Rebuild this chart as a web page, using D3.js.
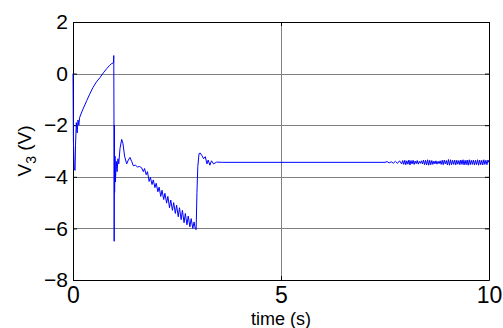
<!DOCTYPE html>
<html>
<head>
<meta charset="utf-8">
<script src="https://cdn.jsdelivr.net/npm/d3@7"></script>
<style>
  body { margin: 0; background: #fff; }
  svg { display: block; font-family: "Liberation Sans", Arial, sans-serif; }
</style>
</head>
<body>
<svg id="chart" width="503" height="328"></svg>
<script>
// time (s) and V3 (V)
const time = [
  0, 0.01, 0.03, 0.05, 0.06, 0.08, 0.10, 0.12, 0.14, 0.16,
  0.22, 0.33, 0.40, 0.48, 0.56, 0.65, 0.73, 0.81, 0.88, 0.93, 0.975,
  0.98, 0.985, 0.99, 0.995, 1.0, 1.01, 1.02, 1.04, 1.06, 1.08, 1.10, 1.13, 1.17, 1.20, 1.24, 1.29,
  1.33, 1.37, 1.41, 1.45, 1.50, 1.55, 1.60, 1.65,
  1.69, 1.72, 1.76, 1.79, 1.83, 1.86, 1.90, 1.93, 1.97, 2.00, 2.04, 2.07, 2.11, 2.14, 2.18, 2.21,
  2.25, 2.28, 2.32, 2.35, 2.39, 2.42, 2.46, 2.49, 2.53, 2.56, 2.60, 2.63, 2.67, 2.70, 2.74, 2.77,
  2.81, 2.84, 2.88, 2.91, 2.94, 2.96,
  2.98, 3.00, 3.03, 3.06, 3.10, 3.14, 3.18, 3.22, 3.25, 3.29, 3.33, 3.38, 3.45, 3.6, 5, 7.5,
  7.55, 7.6, 7.65, 7.7, 7.75, 7.8, 7.85, 7.9,
  7.925, 7.95, 7.975, 8.0, 8.025, 8.05, 8.075, 8.1, 8.125, 8.15,
  8.175, 8.2, 8.225, 8.25, 8.275, 8.3, 8.325, 8.35, 8.375, 8.4,
  8.425, 8.45, 8.475, 8.5, 8.525, 8.55, 8.575, 8.6, 8.625, 8.65,
  8.675, 8.7, 8.725, 8.75, 8.775, 8.8, 8.825, 8.85, 8.875, 8.9,
  8.925, 8.95, 8.975, 9.0, 9.025, 9.05, 9.075, 9.1, 9.125, 9.15,
  9.175, 9.2, 9.225, 9.25, 9.275, 9.3, 9.325, 9.35, 9.375, 9.4,
  9.425, 9.45, 9.475, 9.5, 9.525, 9.55, 9.575, 9.6, 9.625, 9.65,
  9.675, 9.7, 9.725, 9.75, 9.775, 9.8, 9.825, 9.85, 9.875, 9.9,
  9.925, 9.95, 9.975, 10
];
const v3 = [
  0, -2.6, -3.7, -3.75, -2.8, -1.9, -2.3, -1.8, -2.0, -1.7,
  -1.45, -1.05, -0.8, -0.54, -0.33, -0.15, 0.03, 0.19, 0.32, 0.39, 0.42,
  0.7, -1.8, -6.5, -2.0, -4.6, -3.2, -4.2, -3.4, -3.8, -3.3, -3.5, -2.9, -2.55, -2.7, -3.2, -3.5,
  -3.35, -3.25, -3.4, -3.57, -3.55, -3.62, -3.6, -3.65,
  -3.80, -3.68, -3.92, -3.80, -4.18, -4.02, -4.30, -4.12, -4.42, -4.25, -4.58, -4.40, -4.76, -4.52, -4.88, -4.64,
  -5.02, -4.76, -5.20, -4.90, -5.30, -5.00, -5.42, -5.10, -5.55, -5.20, -5.66, -5.30, -5.78, -5.42, -5.86, -5.52,
  -5.94, -5.62, -6.0, -5.75, -6.02, -6.05,
  -4.6, -3.6, -3.1, -3.08, -3.18, -3.3, -3.22, -3.5, -3.35, -3.55, -3.38, -3.5, -3.43, -3.44, -3.44, -3.44,
  -3.41, -3.46, -3.42, -3.47, -3.40, -3.48, -3.38, -3.50,
  -3.37, -3.52, -3.36, -3.53, -3.38, -3.51, -3.35, -3.54, -3.37, -3.50,
  -3.36, -3.52, -3.39, -3.49, -3.37, -3.51, -3.40, -3.48, -3.38, -3.50,
  -3.35, -3.53, -3.36, -3.54, -3.34, -3.55, -3.36, -3.53, -3.37, -3.52,
  -3.39, -3.50, -3.38, -3.51, -3.40, -3.49, -3.38, -3.52, -3.36, -3.53,
  -3.35, -3.50, -3.37, -3.54, -3.33, -3.55, -3.34, -3.53, -3.36, -3.52,
  -3.35, -3.54, -3.36, -3.51, -3.37, -3.53, -3.35, -3.52, -3.34, -3.54,
  -3.36, -3.53, -3.35, -3.55, -3.34, -3.53, -3.36, -3.52, -3.35, -3.54,
  -3.36, -3.53, -3.34, -3.55, -3.35, -3.53, -3.36, -3.54, -3.34, -3.52,
  -3.36, -3.53, -3.35, -3.45
];
const xTicks = [0, 5, 10];
const yTicks = [-8, -6, -4, -2, 0, 2];

const svg = d3.select("#chart");
const width = +svg.attr("width");
const height = +svg.attr("height");
const margin = { top: 22, right: 14, bottom: 48, left: 73 };
const chartWidth = width - margin.left - margin.right;
const chartHeight = height - margin.top - margin.bottom;

const chart = svg.append("g")
  .attr("transform", `translate(${margin.left}, ${margin.top})`);

const xScale = d3.scaleLinear().domain([0, 10]).range([0, chartWidth]);
const yScale = d3.scaleLinear().domain([-8, 2]).range([chartHeight, 0]);

// grid
chart.append("g")
  .selectAll("line")
  .data(yTicks.slice(1, -1))
  .enter()
  .append("line")
  .attr("x1", 0)
  .attr("x2", chartWidth)
  .attr("y1", (d) => Math.round(yScale(d)) + 0.5)
  .attr("y2", (d) => Math.round(yScale(d)) + 0.5)
  .attr("stroke", "#808080");

chart.append("g")
  .selectAll("line")
  .data(xTicks.slice(1, -1))
  .enter()
  .append("line")
  .attr("x1", (d) => Math.round(xScale(d)) + 0.5)
  .attr("x2", (d) => Math.round(xScale(d)) + 0.5)
  .attr("y1", 0)
  .attr("y2", chartHeight)
  .attr("stroke", "#808080");

// axes, ticks inward like matlab
const styleAxis = (g) => {
  g.selectAll(".domain").attr("stroke", "#000");
  g.selectAll(".tick line").attr("stroke", "#000");
};

chart.append("g")
  .attr("transform", `translate(0, ${chartHeight})`)
  .call(d3.axisBottom(xScale).tickValues(xTicks).tickSizeInner(-4).tickSizeOuter(0).tickPadding(7))
  .call(styleAxis)
  .call((g) => g.selectAll("text").attr("font-size", "23px").attr("fill", "#000").attr("font-family", "'Liberation Sans', Arial, sans-serif"));

chart.append("g")
  .call(d3.axisLeft(yScale).tickValues(yTicks).tickSizeInner(-4).tickSizeOuter(0).tickPadding(5))
  .call(styleAxis)
  .call((g) => g.selectAll("text").attr("font-size", "21px").attr("fill", "#000").attr("font-family", "'Liberation Sans', Arial, sans-serif"));

chart.append("g")
  .call(d3.axisTop(xScale).tickValues(xTicks).tickSizeInner(-4).tickSizeOuter(0).tickFormat(""))
  .call(styleAxis);

chart.append("g")
  .attr("transform", `translate(${chartWidth}, 0)`)
  .call(d3.axisRight(yScale).tickValues(yTicks).tickSizeInner(-4).tickSizeOuter(0).tickFormat(""))
  .call(styleAxis);

// the signal
const line = d3.line()
  .x((d, i) => xScale(time[i]))
  .y((d) => yScale(d));

chart.append("path")
  .datum(v3)
  .attr("fill", "none")
  .attr("stroke", "#0000ff")
  .attr("stroke-width", 1)
  .attr("stroke-linejoin", "round")
  .attr("d", line);

// labels
svg.append("text")
  .attr("x", margin.left + chartWidth / 2)
  .attr("y", 325)
  .attr("text-anchor", "middle")
  .attr("font-size", "18px")
  .text("time (s)");

const yLabel = svg.append("text")
  .attr("transform", "rotate(-90)")
  .attr("x", -(margin.top + chartHeight / 2))
  .attr("y", 31)
  .attr("text-anchor", "middle")
  .attr("font-size", "19px");
yLabel.append("tspan").text("V");
yLabel.append("tspan").attr("font-size", "14px").attr("dy", 5).text("3");
yLabel.append("tspan").attr("dy", -5).text(" (V)");
</script>
</body>
</html>
